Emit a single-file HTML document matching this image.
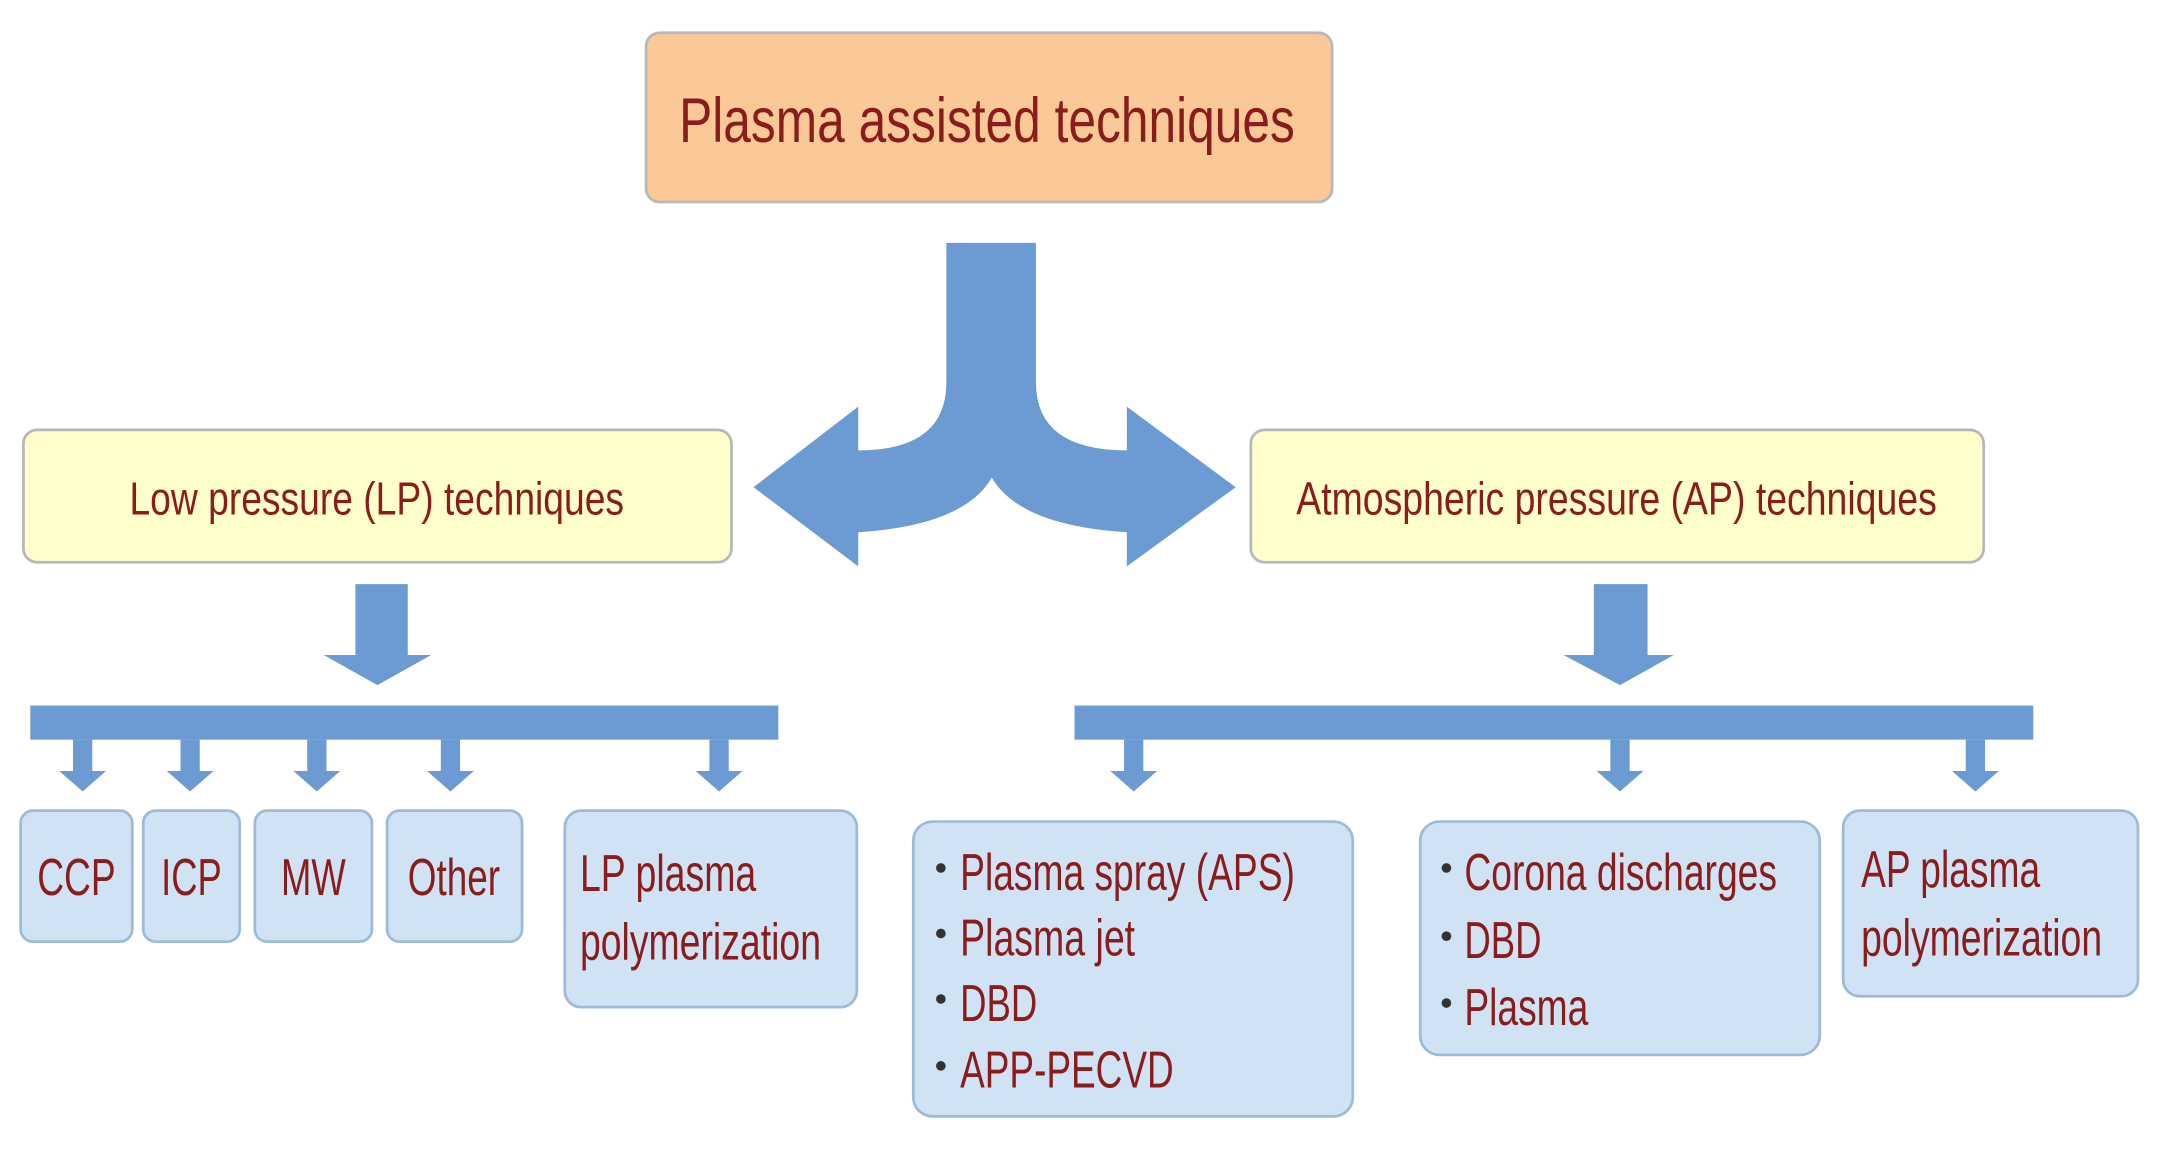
<!DOCTYPE html>
<html><head><meta charset="utf-8"><style>
html,body{margin:0;padding:0;background:#fff;}
svg{display:block;}
text{font-family:"Liberation Sans Narrow","Liberation Sans",sans-serif;fill:#8b1c1c;}
.b{fill:#333;}
</style></head><body>
<svg width="2160" height="1160" viewBox="0 0 1568 850" preserveAspectRatio="none" xmlns="http://www.w3.org/2000/svg">
<g stroke="#b8b8b8" stroke-width="2">
<rect x="469" y="24" width="498" height="124" rx="10" fill="#fbc898"/>
<rect x="17" y="315" width="514" height="97" rx="10" fill="#ffffcc"/>
<rect x="908" y="315" width="532" height="97" rx="10" fill="#ffffcc"/>
</g>
<g fill="#6b9bd2">
<path d="M687,178 L752,178 L752,280 Q752,330 818,330 L818,298 L897,357 L818,415 L818,390 Q740,385 720,350 Q700,385 623,390 L623,415 L547,357 L623,298 L623,330 Q687,330 687,280 Z"/>
<path d="M258,428 L296,428 L296,480 L313,480 L274,502 L235,480 L258,480 Z"/>
<path d="M1157,428 L1196,428 L1196,480 L1215,480 L1176,502 L1135,480 L1157,480 Z"/>
<rect x="22" y="517" width="543" height="25"/>
<rect x="780" y="517" width="696" height="25"/>
<path d="M53,542h14v23h10l-17,15l-17,-15h10z"/>
<path d="M131,542h14v23h10l-17,15l-17,-15h10z"/>
<path d="M223,542h14v23h10l-17,15l-17,-15h10z"/>
<path d="M320,542h14v23h10l-17,15l-17,-15h10z"/>
<path d="M515,542h14v23h10l-17,15l-17,-15h10z"/>
<path d="M816,542h14v23h10l-17,15l-17,-15h10z"/>
<path d="M1169,542h14v23h10l-17,15l-17,-15h10z"/>
<path d="M1427,542h14v23h10l-17,15l-17,-15h10z"/>
</g>
<g stroke="#9dbbd8" stroke-width="2" fill="#cfe3f4">
<rect x="15" y="594" width="81" height="96" rx="9"/>
<rect x="104" y="594" width="70" height="96" rx="9"/>
<rect x="185" y="594" width="85" height="96" rx="9"/>
<rect x="281" y="594" width="98" height="96" rx="9"/>
<rect x="410" y="594" width="212" height="144" rx="12"/>
<rect x="663" y="602" width="319" height="216" rx="14"/>
<rect x="1031" y="602" width="290" height="171" rx="14"/>
<rect x="1338" y="594" width="214" height="136" rx="12"/>
</g>
<text x="493" y="104" font-size="46" textLength="447" lengthAdjust="spacingAndGlyphs">Plasma assisted techniques</text>
<text x="94" y="377" font-size="34" textLength="359" lengthAdjust="spacingAndGlyphs">Low pressure (LP) techniques</text>
<text x="941" y="377" font-size="34" textLength="465" lengthAdjust="spacingAndGlyphs">Atmospheric pressure (AP) techniques</text>
<g font-size="38">
<text x="27" y="656" textLength="57" lengthAdjust="spacingAndGlyphs">CCP</text>
<text x="117" y="656" textLength="44" lengthAdjust="spacingAndGlyphs">ICP</text>
<text x="204" y="656" textLength="47" lengthAdjust="spacingAndGlyphs">MW</text>
<text x="296" y="656" textLength="67" lengthAdjust="spacingAndGlyphs">Other</text>
<text x="421" y="653" textLength="128" lengthAdjust="spacingAndGlyphs">LP plasma</text>
<text x="421" y="703" textLength="175" lengthAdjust="spacingAndGlyphs">polymerization</text>
<text x="697" y="652" textLength="243" lengthAdjust="spacingAndGlyphs">Plasma spray (APS)</text>
<text x="697" y="700" textLength="127" lengthAdjust="spacingAndGlyphs">Plasma jet</text>
<text x="697" y="748" textLength="56" lengthAdjust="spacingAndGlyphs">DBD</text>
<text x="697" y="797" textLength="155" lengthAdjust="spacingAndGlyphs">APP-PECVD</text>
<text x="1063" y="652" textLength="227" lengthAdjust="spacingAndGlyphs">Corona discharges</text>
<text x="1063" y="702" textLength="56" lengthAdjust="spacingAndGlyphs">DBD</text>
<text x="1063" y="751" textLength="90" lengthAdjust="spacingAndGlyphs">Plasma</text>
<text x="1351" y="650" textLength="130" lengthAdjust="spacingAndGlyphs">AP plasma</text>
<text x="1351" y="700" textLength="175" lengthAdjust="spacingAndGlyphs">polymerization</text>
</g>
<g fill="#333">
<circle cx="683" cy="636" r="3.5"/><circle cx="683" cy="684" r="3.5"/><circle cx="683" cy="732" r="3.5"/><circle cx="683" cy="781" r="3.5"/>
<circle cx="1050" cy="636" r="3.5"/><circle cx="1050" cy="686" r="3.5"/><circle cx="1050" cy="735" r="3.5"/>
</g>
</svg>
</body></html>
